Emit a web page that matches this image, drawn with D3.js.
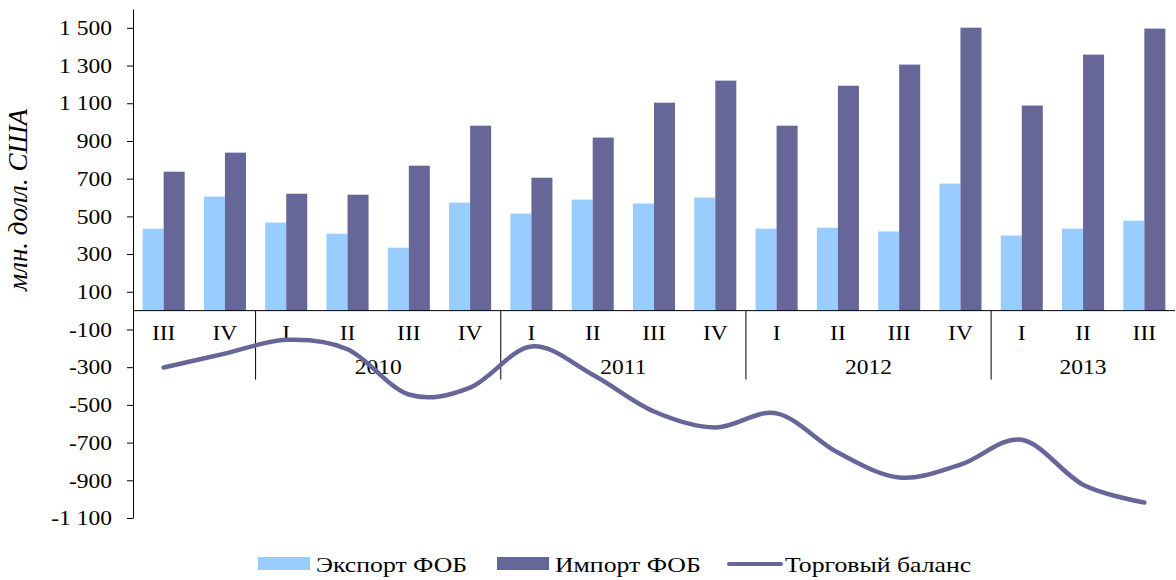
<!DOCTYPE html>
<html>
<head>
<meta charset="utf-8">
<script src="https://cdn.jsdelivr.net/npm/d3@7"></script>
<style>
  body { margin: 0; background: #fff; }
  text { font-family: "Liberation Serif", "Times New Roman", serif; fill: #000; }
</style>
</head>
<body>
<svg id="chart" width="1176" height="580"></svg>
<script>
// quarters 2009 III .. 2013 III
var quarters = ['III', 'IV', 'I', 'II', 'III', 'IV', 'I', 'II', 'III', 'IV', 'I', 'II', 'III', 'IV', 'I', 'II', 'III']
var years = ['2009', '2009', '2010', '2010', '2010', '2010', '2011', '2011', '2011', '2011',
  '2012', '2012', '2012', '2012', '2013', '2013', '2013']
var yearLabels = ['', '2010', '2011', '2012', '2013'] // 2009 has no label in the picture

var exportFob = [435, 605, 467, 408, 334, 573, 515, 589, 568, 600, 435, 440, 420, 674, 398, 435, 477]
var importFob = [737, 838, 620, 615, 769, 981, 705, 918, 1103, 1220, 981, 1193, 1305, 1501, 1088, 1358, 1496]
var balance = [-302, -228, -155, -205, -445, -408, -190, -340, -535, -620, -545, -753, -885, -817, -685, -923, -1018]

var yTicks = [-1100, -900, -700, -500, -300, -100, 100, 300, 500, 700, 900, 1100, 1300, 1500]

var colExport = '#99ccff'
var colImport = '#666699'

var svg = d3.select('#chart')

var plotLeft = 133, plotRight = 1175, plotTop = 9, plotBottom = 518
var sx = 1.12 // the reference text looks a bit stretched sideways

var keys = quarters.map(function (q, i) { return i })

var x0 = d3.scaleBand().domain(keys).range([plotLeft, plotRight]).padding(0)
var step = x0.bandwidth()
var x1 = d3.scaleBand().domain(['exp', 'imp']).range([step * 0.157, step * 0.843])

var y = d3.scaleLinear().domain([-1100, 1600]).range([plotBottom, plotTop])

// format "1 500" style
function fmt (v) {
  var s = Math.abs(v).toString().replace(/\B(?=(\d{3})+(?!\d))/g, ' ')
  return (v < 0 ? '-' : '') + s
}

// bars
var groups = svg.append('g').selectAll('g')
  .data(keys)
  .enter().append('g')
  .attr('transform', function (d) { return 'translate(' + x0(d) + ',0)' })

groups.append('rect')
  .attr('x', x1('exp'))
  .attr('width', x1.bandwidth())
  .attr('y', function (d) { return y(exportFob[d]) })
  .attr('height', function (d) { return y(0) - y(exportFob[d]) })
  .attr('fill', colExport)

groups.append('rect')
  .attr('x', x1('imp'))
  .attr('width', x1.bandwidth())
  .attr('y', function (d) { return y(importFob[d]) })
  .attr('height', function (d) { return y(0) - y(importFob[d]) })
  .attr('fill', colImport)

// y axis
var yAxis = d3.axisLeft(y).tickValues(yTicks).tickSize(6).tickSizeOuter(0).tickFormat(fmt)
var ya = svg.append('g')
  .attr('transform', 'translate(' + plotLeft + ',0)')
  .call(yAxis)
ya.select('.domain').attr('stroke', '#000')
ya.selectAll('.tick line').attr('stroke', '#000')
ya.selectAll('.tick text')
  .attr('x', -21 / sx)
  .attr('transform', 'scale(' + sx + ',1)')
  .style('font-size', '21px')
  .style('font-family', '"Liberation Serif", serif')
  .attr('fill', '#000')

// zero line
svg.append('line')
  .attr('x1', plotLeft).attr('x2', plotRight)
  .attr('y1', y(0)).attr('y2', y(0))
  .attr('stroke', '#000').attr('stroke-width', 1)

// quarter labels
svg.append('g').selectAll('text')
  .data(keys)
  .enter().append('text')
  .attr('transform', function (d) {
    return 'translate(' + (x0(d) + step / 2) + ',' + (y(0) + 29) + ') scale(' + sx + ',1)'
  })
  .attr('text-anchor', 'middle')
  .style('font-size', '21px')
  .text(function (d) { return quarters[d] })

// year separators & labels
var yearList = []
years.forEach(function (yr, i) {
  if (!yearList.length || yearList[yearList.length - 1].year !== yr) {
    yearList.push({ year: yr, start: i, end: i })
  } else {
    yearList[yearList.length - 1].end = i
  }
})

yearList.forEach(function (g, i) {
  if (i > 0) {
    svg.append('line')
      .attr('x1', x0(g.start)).attr('x2', x0(g.start))
      .attr('y1', y(0)).attr('y2', y(0) + 69)
      .attr('stroke', '#000').attr('stroke-width', 1)
  }
  var cx = (x0(g.start) + x0(g.end) + step) / 2
  svg.append('text')
    .attr('transform', 'translate(' + cx + ',' + (y(0) + 63) + ') scale(' + sx + ',1)')
    .attr('text-anchor', 'middle')
    .style('font-size', '21px')
    .text(yearLabels[i])
})

// trade balance line
var line = d3.line()
  .x(function (d) { return x0(d) + step / 2 })
  .y(function (d) { return y(balance[d]) })
  .curve(d3.curveCardinal.tension(0))

svg.append('path')
  .datum(keys)
  .attr('d', line)
  .attr('fill', 'none')
  .attr('stroke', colImport)
  .attr('stroke-width', 4.5)
  .attr('stroke-linecap', 'round')

// y axis title
svg.append('text')
  .attr('transform', 'translate(27,200) rotate(-90)')
  .attr('text-anchor', 'middle')
  .style('font-size', '27px')
  .style('font-style', 'italic')
  .text('млн. долл. США')

// legend
var legend = [
  { name: 'Экспорт ФОБ', type: 'rect', color: colExport, x: 258 },
  { name: 'Импорт ФОБ', type: 'rect', color: colImport, x: 497 },
  { name: 'Торговый баланс', type: 'line', color: colImport, x: 727 }
]
var ly = 564
legend.forEach(function (l) {
  if (l.type === 'rect') {
    svg.append('rect')
      .attr('x', l.x).attr('y', ly - 7)
      .attr('width', 52).attr('height', 13)
      .attr('fill', l.color)
  } else {
    svg.append('line')
      .attr('x1', l.x + 2).attr('x2', l.x + 54)
      .attr('y1', ly).attr('y2', ly)
      .attr('stroke', l.color).attr('stroke-width', 4)
      .attr('stroke-linecap', 'round')
  }
  svg.append('text')
    .attr('transform', 'translate(' + (l.x + 58) + ',' + (ly + 8) + ') scale(1.17,1)')
    .style('font-size', '22px')
    .text(l.name)
})
</script>
</body>
</html>
